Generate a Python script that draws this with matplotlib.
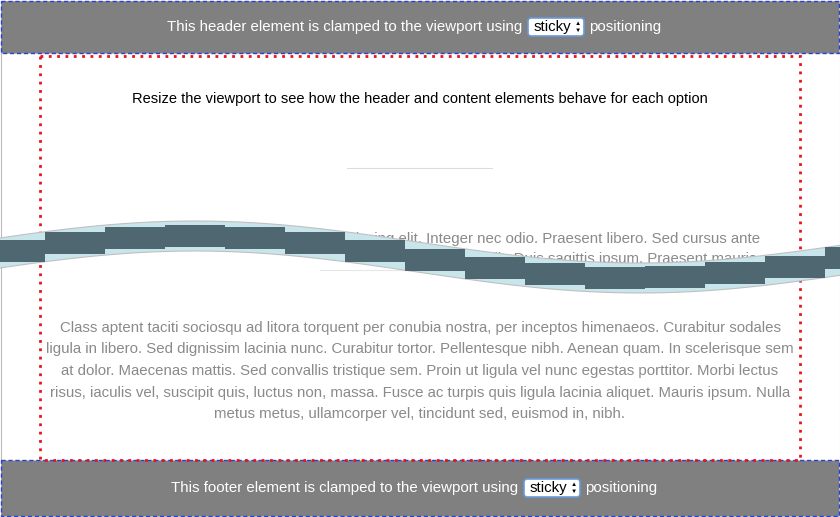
import numpy as np
import matplotlib
matplotlib.use("Agg")
import matplotlib.pyplot as plt
from matplotlib.patches import Rectangle, FancyBboxPatch

plt.rcParams['font.family'] = ['Liberation Sans', 'DejaVu Sans']

header_text = ["This header element is clamped to the viewport using", "sticky", "positioning"]
footer_text = ["This footer element is clamped to the viewport using", "sticky", "positioning"]
intro = "Resize the viewport to see how the header and content elements behave for each option"
hidden_lines = ["Lorem ipsum dolor sit amet, consectetur adipiscing elit. Integer nec odio. Praesent libero. Sed cursus ante",
                "elit. Duis sagittis ipsum. Praesent mauris"]
para = ["Class aptent taciti sociosqu ad litora torquent per conubia nostra, per inceptos himenaeos. Curabitur sodales",
        "ligula in libero. Sed dignissim lacinia nunc. Curabitur tortor. Pellentesque nibh. Aenean quam. In scelerisque sem",
        "at dolor. Maecenas mattis. Sed convallis tristique sem. Proin ut ligula vel nunc egestas porttitor. Morbi lectus",
        "risus, iaculis vel, suscipit quis, luctus non, massa. Fusce ac turpis quis ligula lacinia aliquet. Mauris ipsum. Nulla",
        "metus metus, ullamcorper vel, tincidunt sed, euismod in, nibh."]
para_y = [328, 349, 371, 393, 414]
wave_mean, wave_amp, wave_period, wave_crest = 257, 21, 890, 195

fig = plt.figure(figsize=(8.4, 5.17), dpi=100)
ax = fig.add_axes([0, 0, 1, 1])
ax.set_xlim(0, 840); ax.set_ylim(517, 0); ax.axis('off')

ax.add_patch(Rectangle((0.5, 0.5), 839, 516, fill=False, ec='#bbbbbb', lw=0.8))
for y0, h, txt in [(1, 52, header_text), (460, 56, footer_text)]:
    ax.add_patch(Rectangle((1, y0), 838, h, fc='#808080', ec='#2a3fd6', lw=1, ls=(0, (3, 2))))
    yc = y0 + h / 2
    ax.text(526 if y0 < 100 else 522, yc, txt[0] + " ", ha='right', va='center', color='white', fontsize=10.8)
    bx = 528 if y0 < 100 else 524
    ax.add_patch(FancyBboxPatch((bx, yc - 9), 56, 18, boxstyle="round,pad=0,rounding_size=3",
                                fc='white', ec='#6a9ad8', lw=1.2))
    ax.text(bx + 6, yc, txt[1], ha='left', va='center', color='black', fontsize=10.8)
    ax.text(bx + 50, yc - 3.5, "▲", ha='center', va='center', fontsize=4.5, color='black')
    ax.text(bx + 50, yc + 3.5, "▼", ha='center', va='center', fontsize=4.5, color='black')
    ax.text(bx + 61, yc, txt[2], ha='left', va='center', color='white', fontsize=10.8)

ax.add_patch(Rectangle((40, 56), 760, 404, fill=False, ec='#e8141c', lw=2, ls=(0, (1, 2))))
ax.text(420, 99, intro, ha='center', va='center', fontsize=10.5, color='black')
ax.plot([347, 492], [168, 168], color='#dddddd', lw=0.8)
ax.plot([320, 490], [270, 270], color='#e6e6e6', lw=0.8)
ax.text(760, 239, hidden_lines[0], ha='right', va='center', fontsize=10.8, color='#8a8a8a')
ax.text(757, 259, hidden_lines[1], ha='right', va='center', fontsize=10.8, color='#8a8a8a')
for s, y in zip(para, para_y):
    ax.text(420, y, s, ha='center', va='center', fontsize=10.8, color='#8a8a8a')

x = np.linspace(0, 840, 400)
c = wave_mean - wave_amp * np.cos(2 * np.pi * (x - wave_crest) / wave_period)
ax.fill_between(x, c - 15, c + 15, color='#c8e5ec', lw=0, zorder=5)
ax.plot(x, c - 15, color='#c0c0c0', lw=0.8, zorder=6)
ax.plot(x, c + 15, color='#c0c0c0', lw=0.8, zorder=6)
step = 60
for bx in np.arange(-15, 850, step):
    xm = bx + step / 2
    cm = wave_mean - wave_amp * np.cos(2 * np.pi * (xm - wave_crest) / wave_period)
    ax.add_patch(Rectangle((bx, cm - 11), step, 22, fc='#4f6770', lw=0, zorder=7))

fig.savefig("out.png", dpi=100)
